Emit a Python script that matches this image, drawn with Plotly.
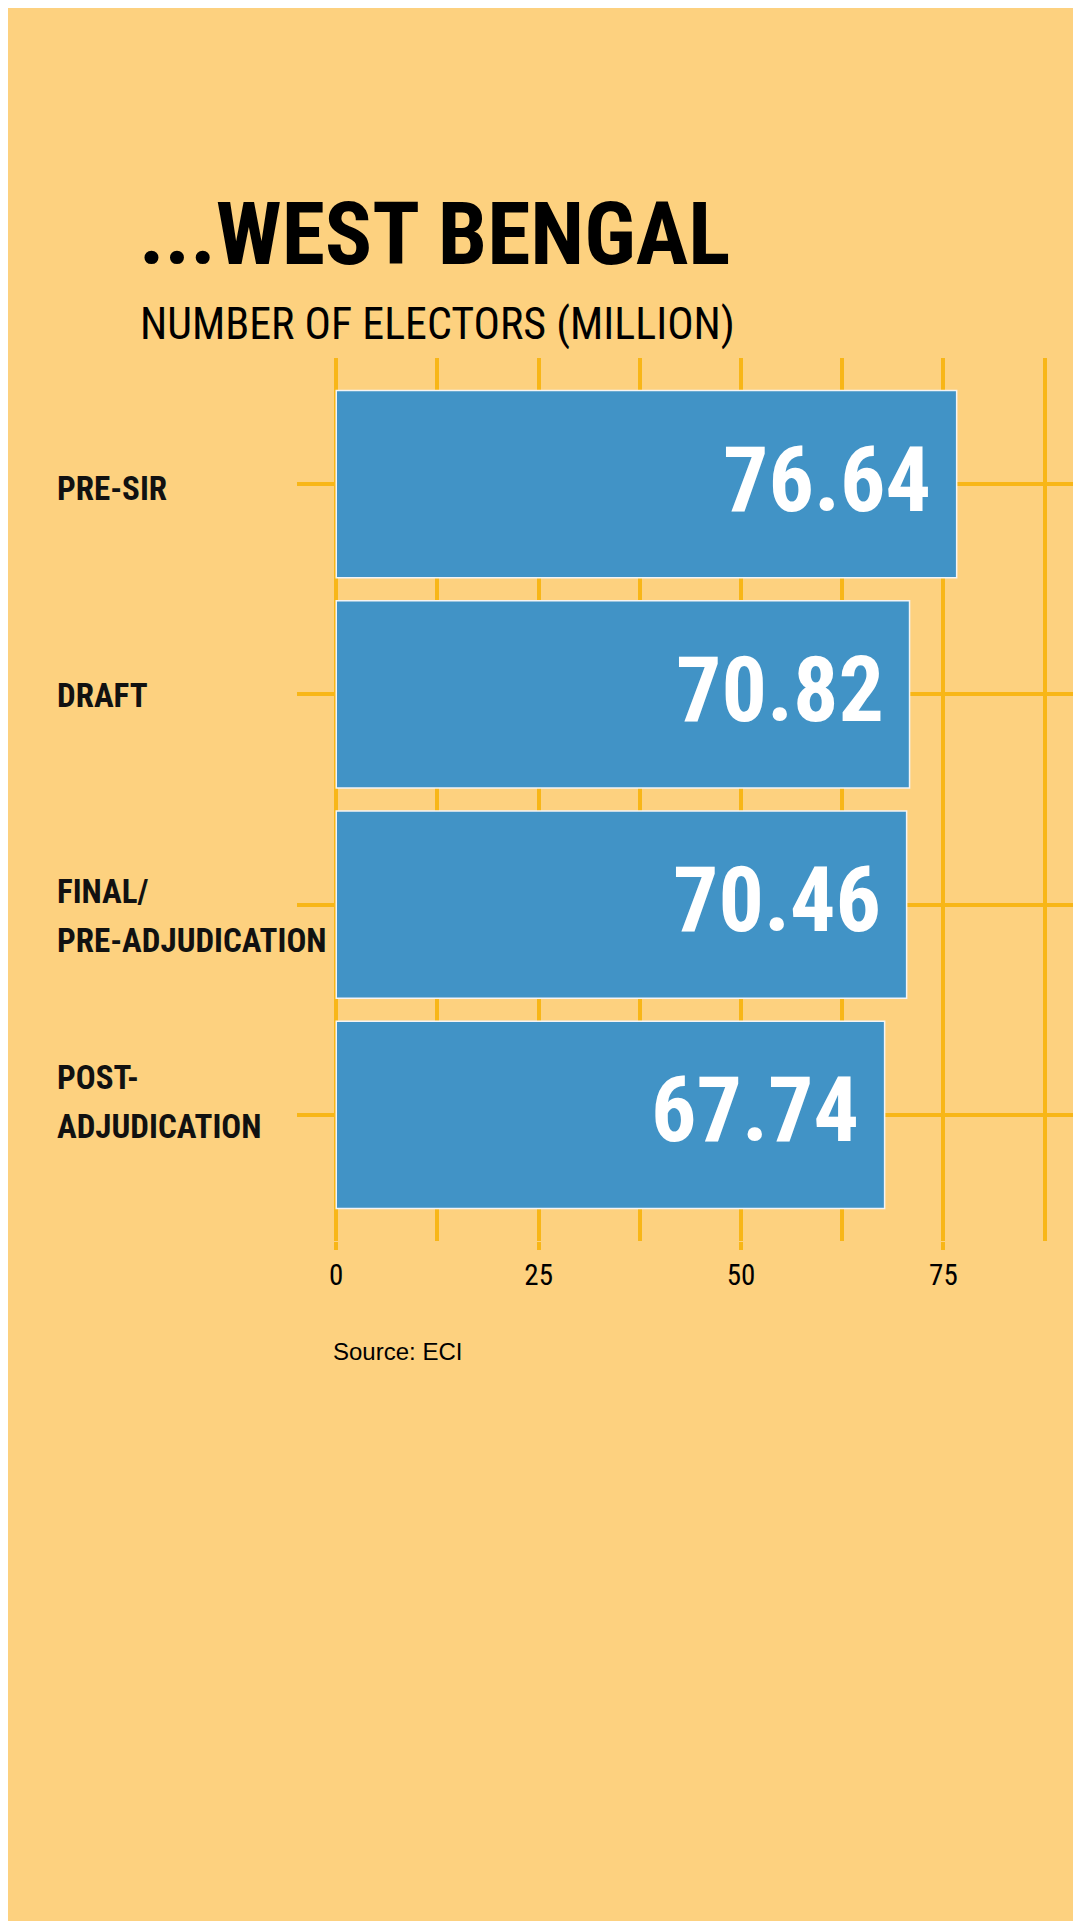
import plotly.graph_objects as go

# data
stages = ["PRE-SIR", "DRAFT", "FINAL/<br>PRE-ADJUDICATION", "POST-<br>ADJUDICATION"]
electors = [76.64, 70.82, 70.46, 67.74]
tick_vals = [0, 25, 50, 75]
tick_text = ["0", "25", "50", "75"]
minor_vals = [12.5, 37.5, 62.5, 87.5]

BG = "#FDD17F"
GOLD = "#F8B617"
BLUE = "#4193C6"
NARROW = "Roboto Condensed, Liberation Sans Narrow, DejaVu Sans Condensed, Liberation Sans"

OFF = 8  # page body margin
W, H = 1081 - OFF, 1921 - OFF
L, T, B = 297 - OFF, 358 - OFF, 680
plot_h = H - T - B
plot_w = W - L

# small vertical nudges (px) of the category labels, and their line gap
label_nudge = [-4, -1, -11, 13]
LINE_GAP = 49


def py(y):
    # page pixel y (from top) -> paper coords
    return (H - B - (y - OFF)) / plot_h


def px_(x):
    return (x - OFF - L) / plot_w


fig = go.Figure()
fig.add_trace(go.Bar(
    x=electors, y=stages, orientation="h", width=0.89,
    marker=dict(color=BLUE, line=dict(color="#F4F4F4", width=1.5)),
    hoverinfo="x+y",
))

# value labels inside the bar ends
for s, v in zip(stages, electors):
    fig.add_annotation(x=v, y=s, xref="x", yref="y", text=f"<b>{v:.2f}</b>",
                       showarrow=False, xanchor="right", yanchor="middle",
                       xshift=-24, yshift=4,
                       font=dict(family=NARROW, size=90, color="white"))

# category labels, left aligned, one annotation per line
for s, nudge in zip(stages, label_nudge):
    lines = s.split("<br>")
    n = len(lines)
    for i, line in enumerate(lines):
        shift = ((n - 1) / 2 - i) * LINE_GAP + nudge
        fig.add_annotation(x=px_(55), y=s, xref="paper", yref="y", text=f"<b>{line}</b>",
                           showarrow=False, xanchor="left", yanchor="middle", align="left",
                           yshift=shift,
                           font=dict(family=NARROW, size=33, color="#111111"))

fig.add_annotation(x=px_(137), y=py(234), xref="paper", yref="paper",
                   text="<b>...WEST BENGAL</b>", showarrow=False,
                   xanchor="left", yanchor="middle",
                   font=dict(family=NARROW, size=88, color="#000000"))
fig.add_annotation(x=px_(138), y=py(324), xref="paper", yref="paper",
                   text="NUMBER OF ELECTORS (MILLION)", showarrow=False,
                   xanchor="left", yanchor="middle",
                   font=dict(family=NARROW, size=44, color="#000000"))
fig.add_annotation(x=px_(331), y=py(1351), xref="paper", yref="paper",
                   text="Source: ECI", showarrow=False,
                   xanchor="left", yanchor="middle",
                   font=dict(family="Liberation Sans, Arial", size=24, color="#000000"))

fig.update_xaxes(
    range=[-4.85, 92], tickvals=tick_vals, ticktext=tick_text,
    showgrid=True, gridcolor=GOLD, gridwidth=4, zeroline=False,
    ticks="outside", ticklen=8, tickwidth=4, tickcolor=GOLD,
    ticklabelstandoff=0, showline=False,
    tickfont=dict(family=NARROW, size=29, color="#000000"),
    minor=dict(tickvals=minor_vals, showgrid=True, gridcolor=GOLD, gridwidth=4, ticks=""),
    layer="below traces",
)
fig.update_yaxes(
    range=[3.6, -0.6], showgrid=True, gridcolor=GOLD, gridwidth=4,
    zeroline=False, showticklabels=False, ticks="", showline=False,
)
fig.update_layout(
    width=W, height=H, paper_bgcolor=BG, plot_bgcolor=BG,
    margin=dict(l=L, r=0, t=T, b=B, pad=0),
    showlegend=False, bargap=0.11,
)

fig.write_html("out.html")
